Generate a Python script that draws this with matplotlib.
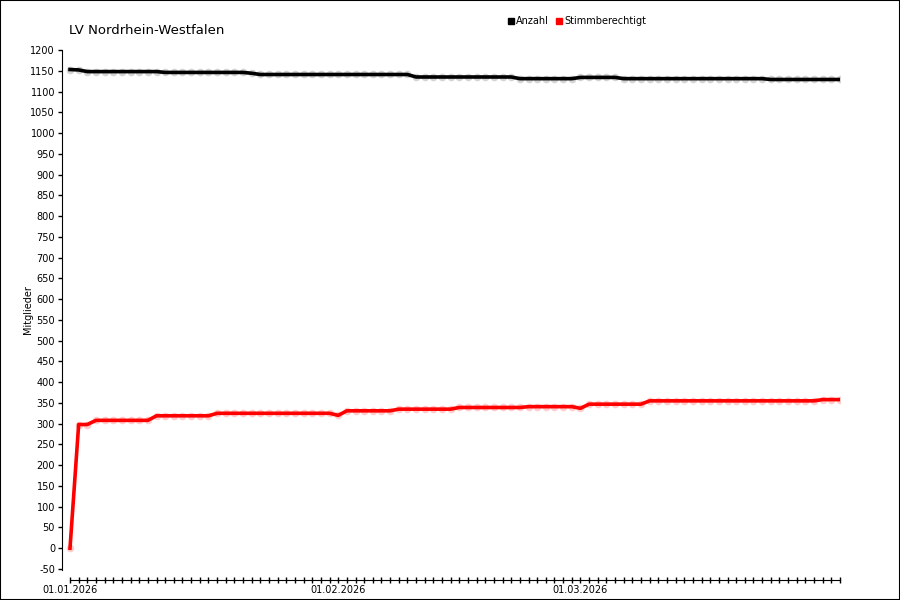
import numpy as np
import matplotlib
matplotlib.use("Agg")
import matplotlib.pyplot as plt
from matplotlib.lines import Line2D
from matplotlib.patches import Rectangle

# Tagesdaten 01.01.2026 - 31.03.2026 (Tag 0 .. 89)
days = np.arange(90)
anzahl = ([1153, 1152] + [1148] * 9 + [1146] * 10 + [1144] + [1141] * 18
          + [1135] * 12 + [1131] * 7 + [1134] * 5 + [1131] * 17 + [1129] * 9)
stimmberechtigt = ([0, 298, 298] + [308] * 7 + [319] * 7 + [325] * 14 + [320]
                   + [331] * 6 + [335] * 7 + [339] * 8 + [341] * 6 + [337]
                   + [347] * 7 + [355] * 20 + [358] * 3)
label_days = [0, 31, 59]
label_texts = ["01.01.2026", "01.02.2026", "01.03.2026"]
yticks = list(range(-50, 1201, 50))

fig = plt.figure(figsize=(9, 6), dpi=100)
ax = fig.add_axes([62 / 900, 20 / 600, 778 / 900, 530 / 600])

ax.plot(days, anzahl, ls="none", marker="o", ms=5.5, mfc="#d4d4d4", mec="none", zorder=2)
ax.plot(days, anzahl, color="black", lw=2.6, zorder=3)
ax.plot(days, stimmberechtigt, ls="none", marker="o", ms=5.5, mfc="#ffcccc", mec="none", zorder=2)
ax.plot(days, stimmberechtigt, color="#ff0000", lw=2.6, zorder=3)

ax.set_xlim(-0.925, 89)
ax.set_ylim(-76.5, 1200)

for s in ["top", "right"]:
    ax.spines[s].set_visible(False)
ax.spines["left"].set_bounds(-52, 1200)
ax.spines["bottom"].set_bounds(0, 89)

ax.set_yticks(yticks)
ax.set_yticklabels([str(v) for v in yticks], fontsize=7)
ax.tick_params(axis="y", direction="out", length=3, width=1, pad=2)

ax.set_xticks(days)
ax.set_xticklabels([label_texts[label_days.index(d)] if d in label_days else "" for d in days],
                   fontsize=7)
ax.tick_params(axis="x", direction="inout", length=4.5, width=1, pad=1.5)

fig.text(28 / 900, 1 - 310 / 600, "Mitglieder", fontsize=7, rotation=90, ha="center", va="center")

fig.text(69 / 900, 1 - 30 / 600, "LV Nordrhein-Westfalen", fontsize=9.5, va="center", ha="left")

handles = [Line2D([], [], ls="none", marker="s", ms=5, color="black"),
           Line2D([], [], ls="none", marker="s", ms=5, color="#ff0000")]
fig.legend(handles, ["Anzahl", "Stimmberechtigt"], loc="center", bbox_to_anchor=(577 / 900, 1 - 21 / 600),
           ncol=2, frameon=False, fontsize=7, handlelength=0.6, handletextpad=0.2, columnspacing=0.8,
           borderpad=0)

fig.patches.append(Rectangle((0, 0), 1, 1, transform=fig.transFigure, fill=False,
                             edgecolor="black", lw=1.5))

plt.savefig("out.png", dpi=100)
